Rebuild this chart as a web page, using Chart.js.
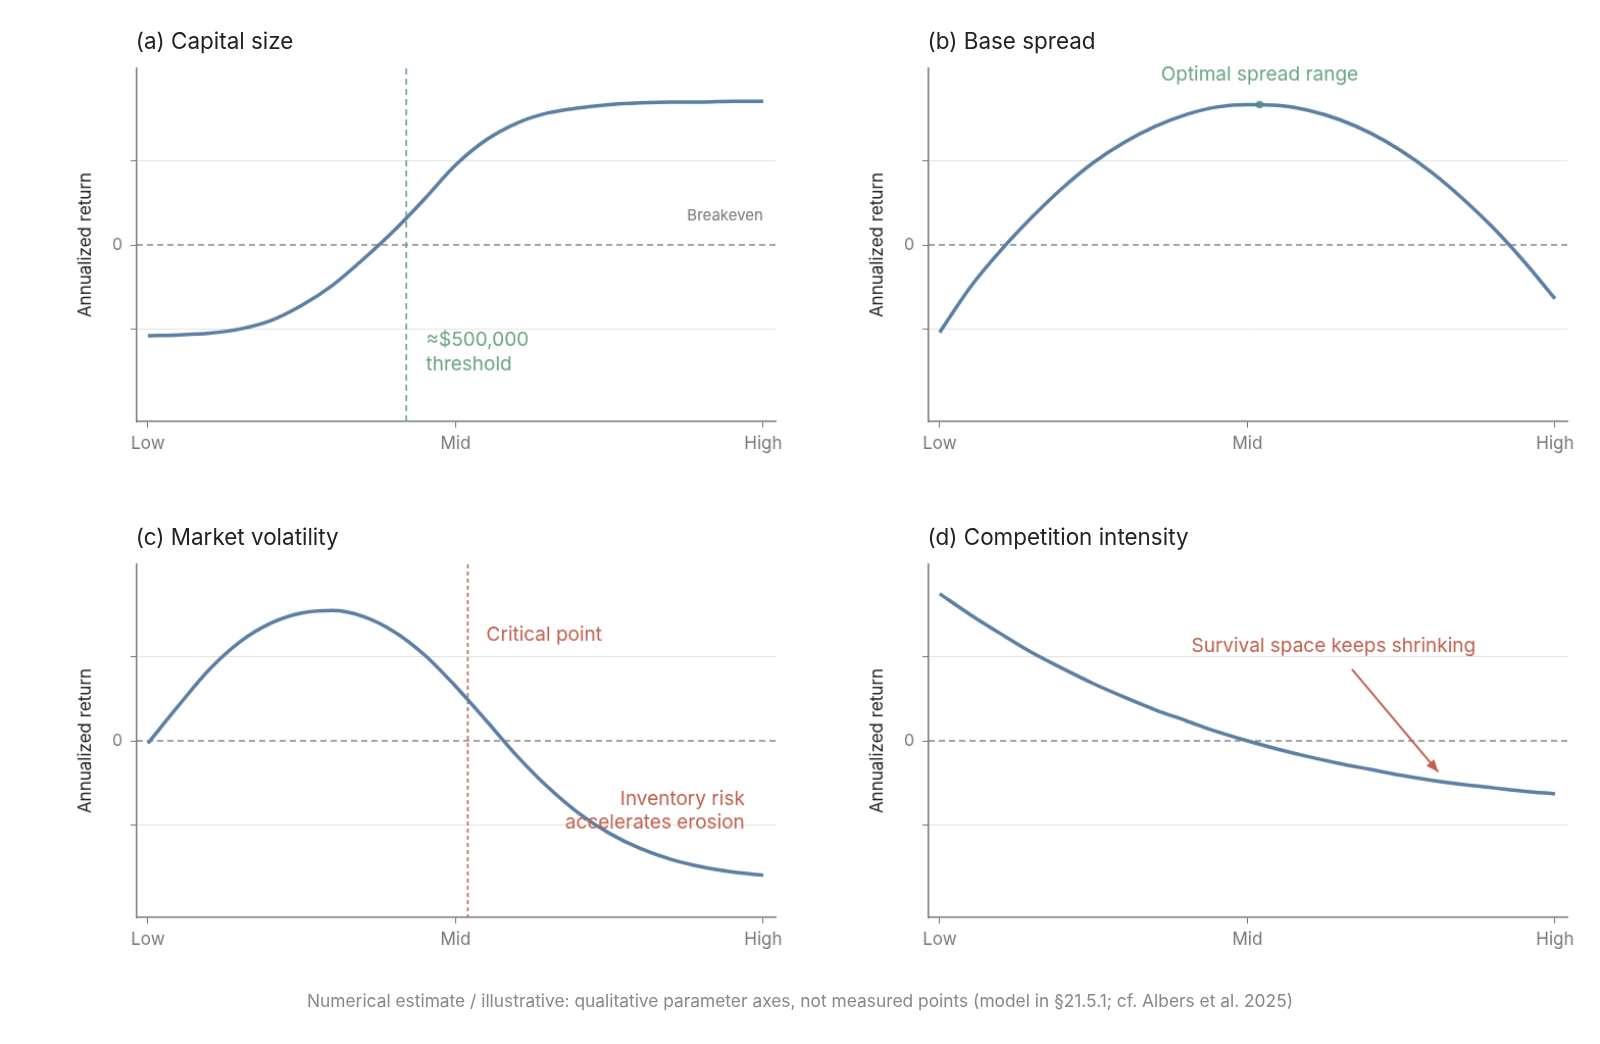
<!DOCTYPE html>
<html><head><meta charset="utf-8">
<script src="https://cdn.jsdelivr.net/npm/chart.js@4/dist/chart.umd.min.js"></script>
<style>
body{margin:0;background:#fff;font-family:Inter,"Liberation Sans",sans-serif;overflow:hidden;}
#wrap{position:absolute;left:0;top:0;width:1568px;height:1023px;transform:scale(1.0204);transform-origin:0 0;}
.p{position:absolute;}
.t{position:absolute;font-size:22px;color:#222;}
#foot{position:absolute;top:971px;left:0;width:1568px;text-align:center;color:#888;font-size:17px;}
</style></head><body><div id="wrap">
<div class="t" style="left:133px;top:27px">(a) Capital size</div>
<div class="t" style="left:909px;top:27px">(b) Base spread</div>
<div class="t" style="left:133px;top:513px">(c) Market volatility</div>
<div class="t" style="left:909px;top:513px">(d) Competition intensity</div>
<canvas id="ca" class="p" width="775" height="460" style="left:0;top:0"></canvas>
<canvas id="cb" class="p" width="780" height="460" style="left:775px;top:0"></canvas>
<canvas id="cc" class="p" width="775" height="460" style="left:0;top:486px"></canvas>
<canvas id="cd" class="p" width="780" height="460" style="left:775px;top:486px"></canvas>
<div id="foot">Numerical estimate / illustrative: qualitative parameter axes, not measured points (model in §21.5.1; cf. Albers et al. 2025)</div>
</div>
<script>
const xs = [0,0.05,0.1,0.15,0.2,0.25,0.3,0.35,0.4,0.45,0.5,0.55,0.6,0.65,0.7,0.75,0.8,0.85,0.9,0.95,1];
const capital = [-1.08,-1.07,-1.05,-1.0,-0.9,-0.72,-0.48,-0.17,0.17,0.55,0.95,1.25,1.45,1.57,1.63,1.67,1.69,1.70,1.70,1.71,1.71];
const spread = [-1.04,-0.5,-0.06,0.33,0.68,0.98,1.22,1.41,1.55,1.64,1.67,1.66,1.6,1.49,1.33,1.12,0.86,0.55,0.2,-0.2,-0.64];
const volatility = [-0.03,0.42,0.85,1.18,1.40,1.52,1.55,1.48,1.30,1.02,0.65,0.24,-0.18,-0.55,-0.86,-1.1,-1.28,-1.41,-1.50,-1.56,-1.60];
const competition = [1.75,1.5,1.27,1.05,0.86,0.68,0.52,0.37,0.24,0.11,0.0,-0.1,-0.19,-0.27,-0.34,-0.41,-0.47,-0.52,-0.56,-0.6,-0.63];
const xTicks = {0:'Low',0.5:'Mid',1:'High'};
const GREEN='#6aa57f', RED='#c0604f', LINE='#5b7fa3', GRAY='#777';
const FONT='Inter, "Liberation Sans", sans-serif';

function make(id, ys, leftW, rightPad, extra) {
  const ann = {
    id:'ann',
    beforeDatasetsDraw(ch){
      const c=ch.ctx, x=ch.scales.x, y=ch.scales.y, a=ch.chartArea;
      c.save(); c.strokeStyle='#888'; c.lineWidth=1.3; c.setLineDash([6,4]);
      const y0=y.getPixelForValue(0);
      c.beginPath(); c.moveTo(a.left,y0); c.lineTo(a.right,y0); c.stroke();
      c.restore();
      // y-axis title
      c.save(); c.translate(a.left-50,(a.top+a.bottom)/2); c.rotate(-Math.PI/2);
      c.fillStyle='#222'; c.font='17px '+FONT; c.textAlign='center'; c.textBaseline='middle';
      c.fillText('Annualized return',0,0); c.restore();
      if(extra.before) extra.before(c,x,y,a);
    },
    afterDatasetsDraw(ch){
      const c=ch.ctx; c.save();
      if(extra.after) extra.after(c,ch.scales.x,ch.scales.y,ch.chartArea);
      c.restore();
    }
  };
  new Chart(document.getElementById(id), {
    type:'line',
    data:{datasets:[{data:xs.map((v,i)=>({x:v,y:ys[i]})),borderColor:LINE,borderWidth:3.5,pointRadius:0,cubicInterpolationMode:'monotone'}].concat(extra.ds||[])},
    options:{
      responsive:false,animation:false,
      layout:{padding:{top:67,right:rightPad,left:0,bottom:0}},
      plugins:{legend:{display:false},tooltip:{enabled:false}},
      scales:{
        x:{type:'linear',min:-0.018,max:1.02,
          afterBuildTicks:s=>{s.ticks=[{value:0},{value:0.5},{value:1}];},
          afterFit:s=>{s.height=47;},
          ticks:{callback:v=>xTicks[v],color:GRAY,font:{family:FONT,size:17},padding:6,maxRotation:0},
          grid:{drawOnChartArea:false,tickLength:6,color:GRAY},
          border:{color:GRAY,width:1.5}},
        y:{min:-2.1,max:2.1,
          afterBuildTicks:s=>{s.ticks=[{value:-1},{value:0},{value:1}];},
          afterFit:s=>{s.width=leftW;},
          ticks:{callback:v=>v===0?'0':'',color:GRAY,font:{family:FONT,size:16},padding:8},
          grid:{color:c=>c.tick&&c.tick.value===0?'rgba(0,0,0,0)':'#e3e3e3',tickColor:GRAY,tickLength:6},
          border:{color:GRAY,width:1.5}}
      }
    },
    plugins:[ann]
  });
}
function txt(c,s,x,y,col,size,align){c.fillStyle=col;c.font=size+'px '+FONT;c.textAlign=align;c.textBaseline='middle';c.fillText(s,x,y);}
function vline(c,x,a,col,dash){c.strokeStyle=col;c.lineWidth=1.6;c.setLineDash(dash);c.beginPath();c.moveTo(x,a.top);c.lineTo(x,a.bottom);c.stroke();c.setLineDash([]);}

make('ca',capital,134,15,{
  before(c,x,y,a){c.save();vline(c,x.getPixelForValue(0.42),a,GREEN,[6,4]);c.restore();},
  after(c,x,y,a){
    txt(c,'Breakeven',x.getPixelForValue(1.0),y.getPixelForValue(0.35),GRAY,15,'right');
    txt(c,'≈$500,000',x.getPixelForValue(0.452),y.getPixelForValue(-1.13),GREEN,19,'left');
    txt(c,'threshold',x.getPixelForValue(0.452),y.getPixelForValue(-1.42),GREEN,19,'left');
  }});
make('cb',spread,135,19,{
  ds:[{data:[{x:0.52,y:1.67}],pointRadius:4.5,pointBackgroundColor:GREEN,pointBorderColor:'#fff',pointBorderWidth:1.5,showLine:false}],
  after(c,x,y,a){txt(c,'Optimal spread range',x.getPixelForValue(0.52),y.getPixelForValue(2.02),GREEN,19,'center');}
});
make('cc',volatility,134,15,{
  before(c,x,y,a){c.save();vline(c,x.getPixelForValue(0.52),a,RED,[4,3]);c.restore();},
  after(c,x,y,a){
    txt(c,'Critical point',x.getPixelForValue(0.55),y.getPixelForValue(1.26),RED,19,'left');
    txt(c,'Inventory risk',x.getPixelForValue(0.97),y.getPixelForValue(-0.69),RED,19,'right');
    txt(c,'accelerates erosion',x.getPixelForValue(0.97),y.getPixelForValue(-0.97),RED,19,'right');
  }});
make('cd',competition,135,19,{
  after(c,x,y,a){
    txt(c,'Survival space keeps shrinking',x.getPixelForValue(0.64),y.getPixelForValue(1.12),RED,19,'center');
    const x1=x.getPixelForValue(0.67),y1=y.getPixelForValue(0.85),x2=x.getPixelForValue(0.81),y2=y.getPixelForValue(-0.37);
    c.strokeStyle=RED;c.fillStyle=RED;c.lineWidth=2;
    c.beginPath();c.moveTo(x1,y1);c.lineTo(x2,y2);c.stroke();
    const ang=Math.atan2(y2-y1,x2-x1),L=12,W=5;
    c.beginPath();c.moveTo(x2,y2);
    c.lineTo(x2-L*Math.cos(ang)+W*Math.sin(ang),y2-L*Math.sin(ang)-W*Math.cos(ang));
    c.lineTo(x2-L*Math.cos(ang)-W*Math.sin(ang),y2-L*Math.sin(ang)+W*Math.cos(ang));
    c.closePath();c.fill();
  }});
</script>
</body></html>
